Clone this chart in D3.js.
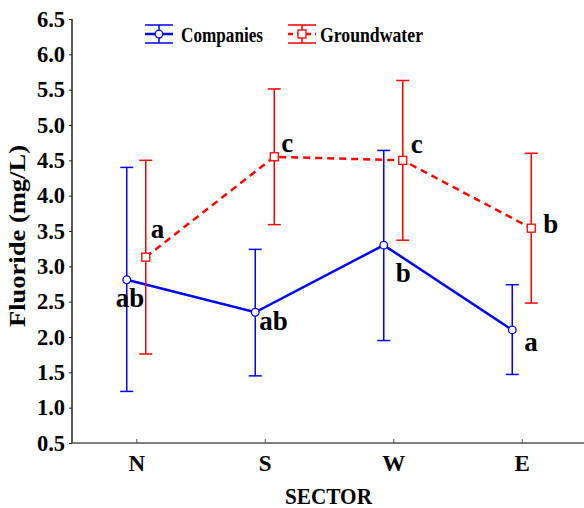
<!DOCTYPE html>
<html>
<head>
<meta charset="utf-8">
<script src="https://cdnjs.cloudflare.com/ajax/libs/d3/7.8.5/d3.min.js"></script>
<style>
body { margin: 0; background: #fff; }
text { font-family: "Liberation Serif", "Times New Roman", serif; font-weight: bold; }
</style>
</head>
<body>
<svg width="584" height="508"></svg>
<script>
var sectors = ["N", "S", "W", "E"];
var yTicks = [0.5, 1.0, 1.5, 2.0, 2.5, 3.0, 3.5, 4.0, 4.5, 5.0, 5.5, 6.0, 6.5];

var companiesMean = [2.81, 2.35, 3.30, 2.10];
var companiesLow  = [1.23, 1.45, 1.95, 1.47];
var companiesHigh = [4.40, 3.24, 4.64, 2.74];
var companiesLetters = ["ab", "ab", "b", "a"];

var groundMean = [3.13, 4.55, 4.50, 3.54];
var groundLow  = [1.76, 3.59, 3.37, 2.48];
var groundHigh = [4.50, 5.51, 5.63, 4.60];
var groundLetters = ["a", "c", "c", "b"];

var svg = d3.select("svg");
var plotLeft = 72, plotRight = 586, plotTop = 19, plotBottom = 443;

var x = d3.scalePoint().domain(sectors).range([plotLeft, plotRight]).padding(0.5);
var y = d3.scaleLinear().domain([0.5, 6.5]).range([plotBottom, plotTop]);

// axes
svg.append("g")
  .attr("transform", "translate(" + plotLeft + ",0)")
  .call(d3.axisLeft(y).tickValues(yTicks).tickFormat(d3.format(".1f")).tickSize(3).tickPadding(4))
  .call(function(g){
    g.select(".domain").attr("stroke", "#222").attr("stroke-width", 1.5).attr("d", "M0," + plotBottom + "V" + plotTop);
    g.selectAll(".tick line").attr("stroke", "#222");
    g.selectAll("text").attr("font-size", "22.5px").attr("fill", "#000").attr("font-family", null);
  });

svg.append("g")
  .attr("transform", "translate(0," + plotBottom + ")")
  .call(d3.axisBottom(x).tickSize(-4).tickPadding(12))
  .call(function(g){
    g.select(".domain").attr("stroke", "#555").attr("stroke-width", 1.5).attr("d", "M" + plotLeft + ",0H584");
    g.selectAll(".tick line").attr("stroke", "#555");
    g.selectAll("text").attr("font-size", "23px").attr("fill", "#000").attr("font-family", null);
  });

svg.append("text")
  .attr("transform", "translate(25,236) rotate(-90)")
  .attr("text-anchor", "middle")
  .attr("font-size", "24px")
  .attr("textLength", 182)
  .attr("lengthAdjust", "spacingAndGlyphs")
  .text("Fluoride  (mg/L)");

svg.append("text")
  .attr("x", 328.5).attr("y", 504)
  .attr("text-anchor", "middle")
  .attr("font-size", "23px")
  .attr("textLength", 87)
  .attr("lengthAdjust", "spacingAndGlyphs")
  .text("SECTOR");

function series(mean, low, high, letters, off, color, dash, marker, labelOff) {
  var g = svg.append("g");
  var pts = sectors.map(function(s, i){
    return {x: x(s) + off, m: mean[i], lo: low[i], hi: high[i], t: letters[i], i: i};
  });
  // error bars
  pts.forEach(function(d){
    g.append("line").attr("x1", d.x).attr("x2", d.x).attr("y1", y(d.lo)).attr("y2", y(d.hi))
      .attr("stroke", color).attr("stroke-width", 1.5);
    [d.lo, d.hi].forEach(function(v){
      g.append("line").attr("x1", d.x - 6.5).attr("x2", d.x + 6.5).attr("y1", y(v)).attr("y2", y(v))
        .attr("stroke", color).attr("stroke-width", 1.5);
    });
  });
  g.append("path")
    .datum(pts)
    .attr("fill", "none")
    .attr("stroke", color)
    .attr("stroke-width", 2.5)
    .attr("stroke-dasharray", dash)
    .attr("d", d3.line().x(function(d){return d.x}).y(function(d){return y(d.m)}));
  pts.forEach(function(d){
    if (marker == "circle") {
      g.append("circle").attr("cx", d.x).attr("cy", y(d.m)).attr("r", 3.8)
        .attr("fill", "#fff").attr("stroke", color).attr("stroke-width", 1.3);
    } else {
      g.append("rect").attr("x", d.x - 4).attr("y", y(d.m) - 4).attr("width", 8).attr("height", 8)
        .attr("fill", "#fff").attr("stroke", color).attr("stroke-width", 1.3);
    }
    g.append("text")
      .attr("x", d.x + labelOff[d.i][0]).attr("y", y(d.m) + labelOff[d.i][1])
      .attr("font-size", "27px")
      .text(d.t);
  });
}

series(companiesMean, companiesLow, companiesHigh, companiesLetters, -9.5, "#0000ff", null, "circle",
  [[-11, 27], [4, 18], [12, 37], [12, 21]]);
series(groundMean, groundLow, groundHigh, groundLetters, 9.5, "#ff0000", "7,5", "square",
  [[5, -19], [7, -5], [8, -7], [12, 5]]);

// legend
function legendItem(cx, color, dash, marker, label, tx, tw) {
  var g = svg.append("g");
  g.append("line").attr("x1", cx - 14).attr("x2", cx + 14).attr("y1", 34).attr("y2", 34)
    .attr("stroke", color).attr("stroke-width", 2.5).attr("stroke-dasharray", dash);
  g.append("line").attr("x1", cx).attr("x2", cx).attr("y1", 25).attr("y2", 43)
    .attr("stroke", color).attr("stroke-width", 1.5);
  [25, 43].forEach(function(v){
    g.append("line").attr("x1", cx - 14).attr("x2", cx + 14).attr("y1", v).attr("y2", v)
      .attr("stroke", color).attr("stroke-width", 1.5);
  });
  if (marker == "circle") {
    g.append("circle").attr("cx", cx).attr("cy", 34).attr("r", 3.8)
      .attr("fill", "#fff").attr("stroke", color).attr("stroke-width", 1.3);
  } else {
    g.append("rect").attr("x", cx - 4).attr("y", 30).attr("width", 8).attr("height", 8)
      .attr("fill", "#fff").attr("stroke", color).attr("stroke-width", 1.3);
  }
  g.append("text").attr("x", tx).attr("y", 42)
    .attr("font-size", "22px")
    .attr("textLength", tw)
    .attr("lengthAdjust", "spacingAndGlyphs")
    .text(label);
}
legendItem(159, "#0000ff", null, "circle", "Companies", 181, 82);
legendItem(302, "#ff0000", "5,4", "square", "Groundwater", 320, 103);
</script>
</body>
</html>
